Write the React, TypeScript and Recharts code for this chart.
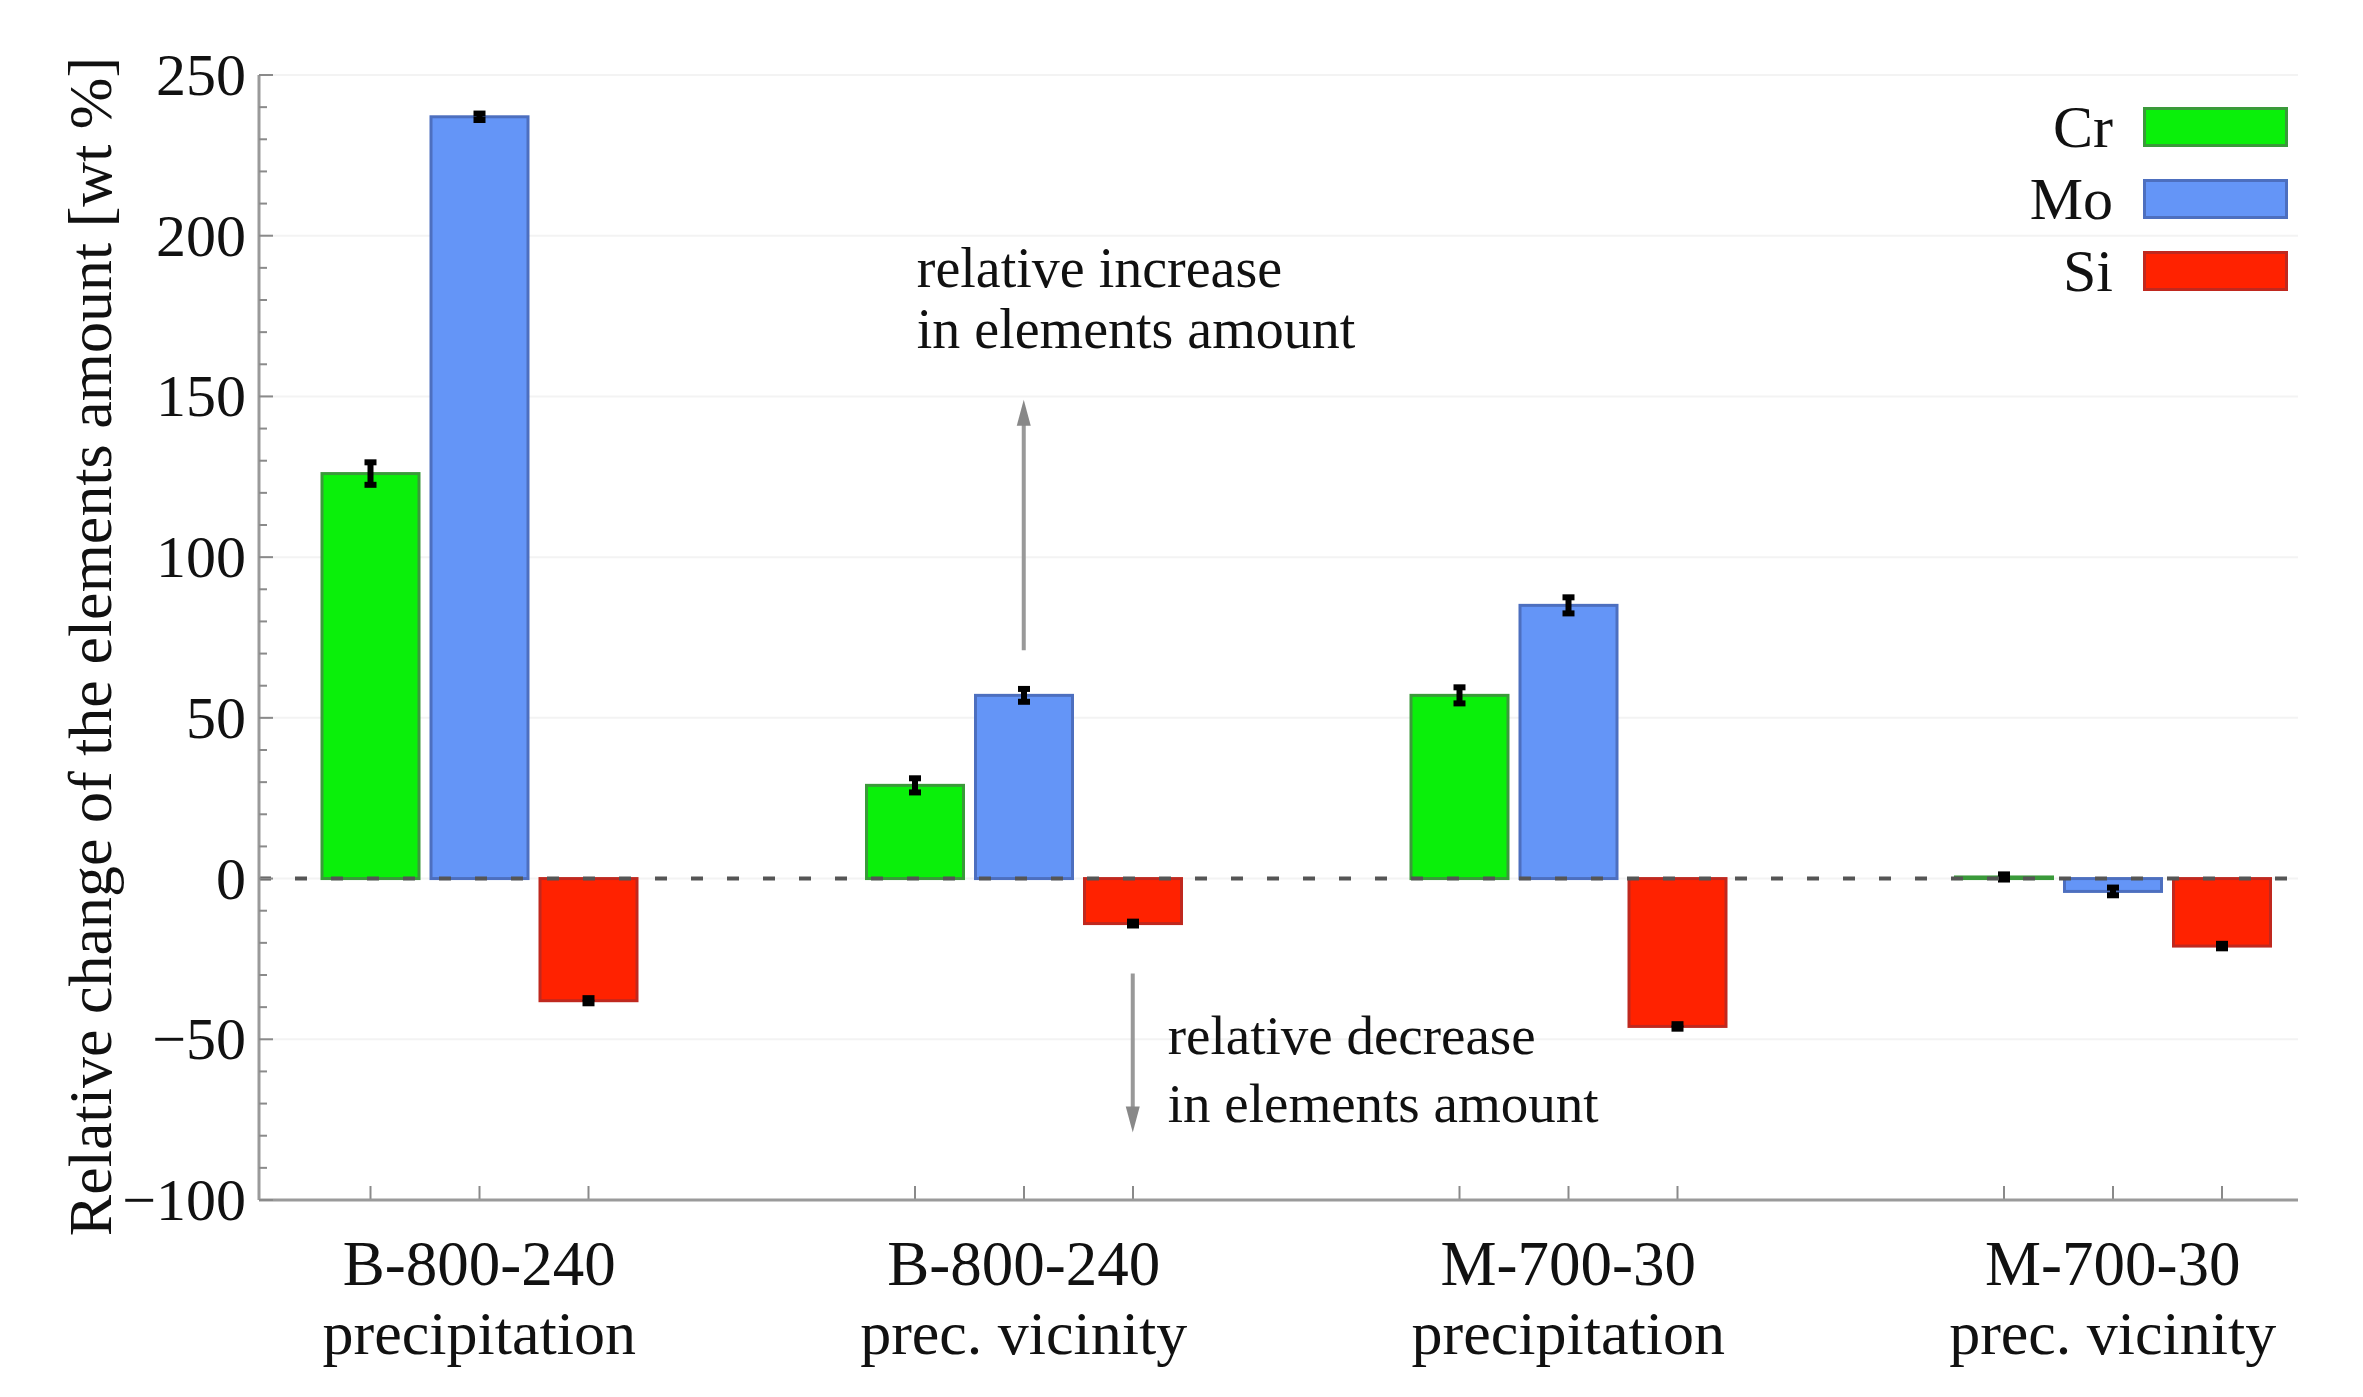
import React from 'react';
import { BarChart, Bar, XAxis, YAxis, CartesianGrid, ReferenceLine, ErrorBar, Legend } from 'recharts';

const FONT = '"Liberation Serif", "Times New Roman", Times, serif';

// ---- data ----
const sampleNames = ['B-800-240', 'B-800-240', 'M-700-30', 'M-700-30'];
const sampleRegions = ['precipitation', 'prec. vicinity', 'precipitation', 'prec. vicinity'];
const crValues = [126, 29, 57, 0.5];
const moValues = [237, 57, 85, -4];
const siValues = [-38, -14, -46, -21];
const crErrors = [3.5, 2.2, 2.5, 0.8];
const moErrors = [1, 2, 2.5, 1.2];
const siErrors = [0.8, 0.6, 0.7, 0.7];
const yTicks = [-100, -90, -80, -70, -60, -50, -40, -30, -20, -10, 0, 10, 20, 30, 40, 50, 60, 70, 80, 90, 100, 110, 120, 130, 140, 150, 160, 170, 180, 190, 200, 210, 220, 230, 240, 250];
const majorTicks = [-100, -50, 0, 50, 100, 150, 200, 250];
const seriesNames = ['Cr', 'Mo', 'Si'];
const seriesKeys = ['cr', 'mo', 'si'];
const seriesFills = ['#0af00a', '#6495f7', '#ff2200'];
const seriesStrokes = ['#3a9a3a', '#4d6fbf', '#c0281e'];
const increaseText = ['relative increase', 'in elements amount'];
const decreaseText = ['relative decrease', 'in elements amount'];
const yTitle = 'Relative change of the elements amount [wt %]';

const data = sampleNames.map((n, i) => ({
  key: `${n}|${sampleRegions[i]}`,
  cr: crValues[i],
  mo: moValues[i],
  si: siValues[i],
  crErr: crErrors[i],
  moErr: moErrors[i],
  siErr: siErrors[i],
}));
const errKeys = ['crErr', 'moErr', 'siErr'];

const BAR_SIZE = 97;
const BAR_GAP = 12;
const Y_TICK_MARGIN = 13;
const AXIS_GRAY = '#9a9a9a';

const BarShape = (props: any) => {
  const { x, y, width, height, fill, stroke, background } = props;
  const top = Math.min(y, y + height);
  const h = Math.abs(height);
  const bottom = background ? background.y + background.height : 1200;
  const cx = x + width / 2;
  return (
    <g>
      <rect x={x} y={top} width={width} height={Math.max(h, 1)} fill={fill} stroke={stroke} strokeWidth={3} />
      <line x1={cx} x2={cx} y1={bottom} y2={bottom - 14} stroke="#8a8a8a" strokeWidth={2} />
    </g>
  );
};

const YTick = (props: any) => {
  const { x, y, payload } = props;
  const v = payload.value;
  const major = v % 50 === 0;
  const ax = x + Y_TICK_MARGIN;
  return (
    <g>
      <line x1={ax} x2={ax + (major ? 14 : 8)} y1={y} y2={y} stroke="#8a8a8a" strokeWidth={2} />
      {major && (
        <text x={x} y={y + 20} textAnchor="end" fontSize={60} fontFamily={FONT} fill="#111">
          {v < 0 ? `\u2212${-v}` : `${v}`}
        </text>
      )}
    </g>
  );
};

const XTick = (props: any) => {
  const { x, y, payload } = props;
  const [a, b] = String(payload.value).split('|');
  return (
    <g>
      <text x={x} y={y + 85} textAnchor="middle" fontSize={63} fontFamily={FONT} fill="#111">{a}</text>
      <text x={x} y={y + 154} textAnchor="middle" fontSize={62} fontFamily={FONT} fill="#111">{b}</text>
    </g>
  );
};

const arrowHead = (x: number, tipY: number, dir: number) => {
  const len = 26;
  const hw = 7;
  return `${x},${tipY} ${x - hw},${tipY - dir * len} ${x + hw},${tipY - dir * len}`;
};

const UpArrow = (props: any) => {
  const { x1, y1, y2 } = props;
  const x = x1;
  return (
    <g>
      <line x1={x} x2={x} y1={y1} y2={y2 + 20} stroke="#999" strokeWidth={4} />
      <polygon points={arrowHead(x, y2, -1)} fill="#888" />
      <text x={x - 107} y={y2 - 113} fontSize={56} fontFamily={FONT} fill="#111">{increaseText[0]}</text>
      <text x={x - 107} y={y2 - 52} fontSize={56} fontFamily={FONT} fill="#111">{increaseText[1]}</text>
    </g>
  );
};

const DownArrow = (props: any) => {
  const { x1, y1, y2 } = props;
  const x = x1 + BAR_SIZE + BAR_GAP;
  return (
    <g>
      <line x1={x} x2={x} y1={y1} y2={y2 - 20} stroke="#999" strokeWidth={4} />
      <polygon points={arrowHead(x, y2, 1)} fill="#888" />
      <text x={x + 35} y={y1 + 81} fontSize={55} fontFamily={FONT} fill="#111">{decreaseText[0]}</text>
      <text x={x + 35} y={y1 + 149} fontSize={55} fontFamily={FONT} fill="#111">{decreaseText[1]}</text>
    </g>
  );
};

const LegendContent = () => (
  <div style={{ fontFamily: FONT }}>
    {seriesNames.map((n, i) => (
      <div key={n} style={{ display: 'flex', alignItems: 'center', height: 72 }}>
        <div style={{ width: 153, textAlign: 'right', fontSize: 60, lineHeight: '72px', color: '#111' }}>{n}</div>
        <div
          style={{
            marginLeft: 30,
            width: 145,
            height: 40,
            boxSizing: 'border-box',
            background: seriesFills[i],
            border: `3px solid ${seriesStrokes[i]}`,
          }}
        />
      </div>
    ))}
  </div>
);

const YTitle = (props: any) => {
  const vb = props.viewBox || { x: 0, y: 75, width: 259, height: 1125 };
  const cx = vb.x + 111;
  const cy = vb.y + vb.height / 2 + 9;
  return (
    <text x={cx} y={cy} transform={`rotate(-90 ${cx} ${cy})`} textAnchor="middle" fontSize={62} fontFamily={FONT} fill="#111">
      {yTitle}
    </text>
  );
};

export default function App() {
  return (
    <div style={{ position: 'absolute', left: 0, top: 0, width: 2363, height: 1397, background: '#fff' }}>
      <BarChart
        width={2363}
        height={1397}
        data={data}
        margin={{ top: 75, right: 65, bottom: 47, left: 0 }}
        barSize={BAR_SIZE}
        barGap={BAR_GAP}
      >
        <CartesianGrid vertical={false} horizontalValues={majorTicks} stroke="#f3f3f3" strokeWidth={2} />
        <XAxis
          dataKey="key"
          height={150}
          interval={0}
          tick={<XTick />}
          tickLine={false}
          tickSize={0}
          tickMargin={0}
          axisLine={{ stroke: AXIS_GRAY, strokeWidth: 3 }}
          padding={{ left: -52, right: -87 }}
        />
        <XAxis
          xAxisId="top"
          orientation="top"
          dataKey="key"
          height={0}
          tick={false}
          tickLine={false}
          axisLine={{ stroke: AXIS_GRAY, strokeWidth: 3 }}
        />
        <YAxis
          width={259}
          domain={[-100, 250]}
          ticks={yTicks}
          interval={0}
          tick={<YTick />}
          tickLine={false}
          tickSize={0}
          tickMargin={Y_TICK_MARGIN}
          axisLine={{ stroke: AXIS_GRAY, strokeWidth: 3 }}
          label={{ content: (p: any) => <YTitle {...p} /> }}
        />
        <YAxis
          yAxisId="right"
          orientation="right"
          width={0}
          domain={[-100, 250]}
          tick={false}
          tickLine={false}
          axisLine={{ stroke: AXIS_GRAY, strokeWidth: 3 }}
        />
        <Legend
          layout="vertical"
          align="center"
          verticalAlign="middle"
          content={() => <LegendContent />}
          wrapperStyle={{ left: 1960, top: 91, width: 330 }}
        />
        {seriesKeys.map((k, i) => (
          <Bar
            key={k}
            dataKey={k}
            name={seriesNames[i]}
            fill={seriesFills[i]}
            stroke={seriesStrokes[i]}
            shape={BarShape}
            isAnimationActive={false}
          >
            <ErrorBar dataKey={errKeys[i]} direction="y" width={6} strokeWidth={6} stroke="#000" />
          </Bar>
        ))}
        <ReferenceLine y={0} stroke="#555" strokeWidth={4} strokeDasharray="12 24" />
        <ReferenceLine
          segment={[{ x: data[1].key, y: 71 }, { x: data[1].key, y: 149 }]}
          shape={(p: any) => <UpArrow {...p} />}
        />
        <ReferenceLine
          segment={[{ x: data[1].key, y: -29.5 }, { x: data[1].key, y: -79 }]}
          shape={(p: any) => <DownArrow {...p} />}
        />
      </BarChart>
    </div>
  );
}
